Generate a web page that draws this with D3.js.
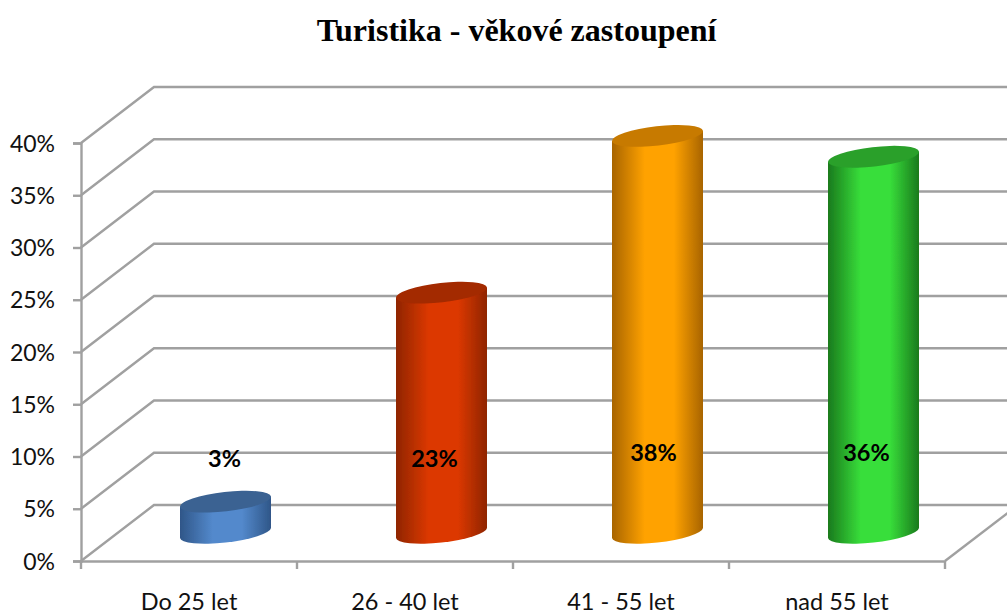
<!DOCTYPE html>
<html><head><meta charset="utf-8">
<script src="https://cdn.jsdelivr.net/npm/d3@7"></script>
<style>html,body{margin:0;padding:0;background:#fff;overflow:hidden}svg{display:block}</style>
</head><body><svg id="c" width="1007" height="614"></svg>
<script>
const title = "Turistika - věkové zastoupení";
const categories = ["Do 25 let", "26 - 40 let", "41 - 55 let", "nad 55 let"];
const values = [3, 23, 38, 36];
const labels = ["3%", "23%", "38%", "36%"];
const bodyColors = [["#2f5688","#5389cc"],["#8f2500","#dc3800"],["#a86400","#ffa200"],["#1a7a1d","#38de3a"]];
const topColors = ["#3b6292", "#a32a02", "#c77a00", "#29a02b"];
const yTicks = [0,5,10,15,20,25,30,35,40];

const W = 1007, H = 614;
const svg = d3.select("#c");
const y = d3.scaleLinear().domain([0,40]).range([561,143]);
const x = d3.scaleBand().domain(categories).range([81,945]);
const depthX = 73, depthY = 56;
const axisColor = "#a0a0a0", font = "Lato, Carlito, sans-serif";

const defs = svg.append("defs");
bodyColors.forEach((c,i)=>{
  const g = defs.append("linearGradient").attr("id","g"+i);
  [[0,c[0]],[.36,c[1]],[.68,c[1]],[1,c[0]]].forEach(s=>g.append("stop").attr("offset",s[0]).attr("stop-color",s[1]));
});
const soft = defs.append("filter").attr("id","soft");
soft.append("feGaussianBlur").attr("stdDeviation",0.5);

// walls and gridlines
const grid = svg.append("g").attr("fill","none").attr("stroke",axisColor).attr("stroke-width",2.4).attr("filter","url(#soft)");
yTicks.forEach(t=>{
  const yy = y(t);
  grid.append("path").attr("d",`M81,${yy}L${81+depthX},${yy-depthY}H${W+5}`);
});
grid.append("path").attr("d",`M945,561L${945+depthX},${561-depthY}`);

// axes
const yAxis = d3.axisLeft(y).tickValues(yTicks).tickFormat(d=>d+"%").tickSize(8).tickPadding(4);
const xAxis = d3.axisBottom(x).tickSize(0).tickPadding(31);
const gy = svg.append("g").attr("transform","translate(81,0)").call(yAxis);
const gx = svg.append("g").attr("transform","translate(0,561)").call(xAxis);
gx.selectAll(".tick text").attr("dy",null).attr("dominant-baseline","auto").attr("y",49);
[gy,gx].forEach(g=>{
  g.selectAll(".domain").attr("stroke",axisColor).attr("stroke-width",2.4);
  g.selectAll("line").attr("stroke",axisColor).attr("stroke-width",2.4);
  g.selectAll("text").attr("font-family",font).attr("font-size",23.5).attr("fill","#111");
});
gy.selectAll("text").attr("x",-26).attr("dy","0.35em").attr("font-size",23);
const xTicks = x.domain().map(d=>x(d)).concat([x.range()[1]]);
svg.append("g").selectAll("line").data(xTicks).join("line")
  .attr("x1",d=>d).attr("x2",d=>d).attr("y1",561).attr("y2",569)
  .attr("stroke",axisColor).attr("stroke-width",2.4);

// cylinders
const halfW = 45.5, tilt = 5, rx = 45.8, ry = 9.7, rot = -6.56;
const bars = svg.append("g").selectAll("g").data(values).join("g").attr("filter","url(#soft)");
const cx = (d,i)=>x(categories[i]) + x.bandwidth()/2 + depthX/2;
const baseY = d => (y(0) - depthY/2);
const topY = d => baseY(d) - (y(0)-y(d));
bars.append("path")
  .attr("fill",(d,i)=>`url(#g${i})`)
  .attr("d",(d,i)=>{const c=cx(d,i),b=baseY(d),t=topY(d);
    return `M${c-halfW},${t+tilt}L${c-halfW},${b+tilt}A${rx},${ry} ${rot} 0 0 ${c+halfW},${b-tilt}L${c+halfW},${t-tilt}Z`;});
bars.append("ellipse")
  .attr("rx",rx).attr("ry",ry)
  .attr("fill",(d,i)=>topColors[i])
  .attr("transform",(d,i)=>`translate(${cx(d,i)},${topY(d)}) rotate(${rot})`);

// data labels
const labelDx = [-1,-7,-4,-7], labelBaseline = [467,467,461,461];
svg.append("g").selectAll("text").data(labels).join("text")
  .attr("x",(d,i)=>cx(d,i)+labelDx[i]).attr("y",(d,i)=>labelBaseline[i])
  .attr("text-anchor","middle").attr("font-family",font).attr("font-weight",700)
  .attr("font-size",23.5).attr("fill","#000").text(d=>d);

svg.append("text").attr("x",516.5).attr("y",41).attr("text-anchor","middle")
  .attr("font-family","'Liberation Serif',serif").attr("font-weight",700).attr("font-size",32)
  .attr("fill","#000").text(title);
</script></body></html>
